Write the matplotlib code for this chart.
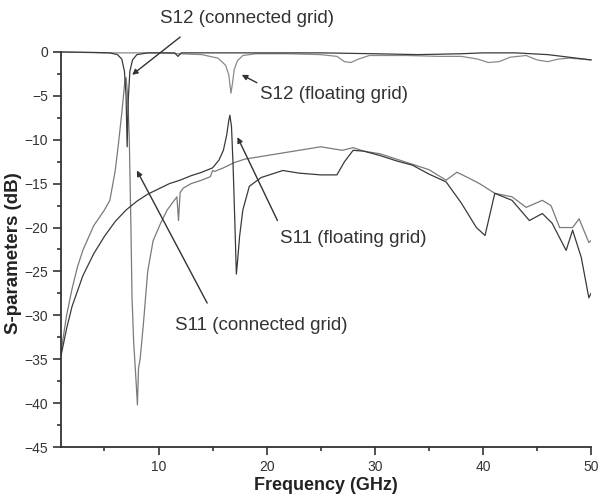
import matplotlib
matplotlib.use('Agg')
import matplotlib.pyplot as plt
from matplotlib.ticker import MultipleLocator

plt.rcParams['font.family'] = ['Liberation Sans', 'DejaVu Sans']

# S12, connected grid: notch near 7.1 GHz
f_s12c = [1, 4, 5.5, 6.2, 6.6, 6.85, 7.0, 7.1, 7.2, 7.35, 7.6, 8.0, 9, 11.5, 11.8, 12.1,
          16, 20, 25, 30, 34, 38, 40, 43, 46, 48, 50]
s12c = [0, -0.05, -0.1, -0.3, -0.8, -2.2, -5.0, -10.8, -5.5, -2.2, -0.9, -0.3, -0.1, -0.1, -0.5, -0.1,
        -0.1, -0.1, -0.1, -0.2, -0.3, -0.2, -0.1, -0.1, -0.3, -0.6, -0.9]

# S12, floating grid: notch near 16.8 GHz
f_s12f = [1, 5, 10, 14, 15.5, 16.2, 16.5, 16.7, 16.85, 17.0, 17.3, 17.8, 19, 22, 25, 26.5, 27.2,
          27.8, 28.5, 29.5, 33, 36, 38, 39.5, 40.5, 41.5, 42.5, 44, 45, 46, 47, 48, 50]
s12f = [0, -0.1, -0.1, -0.3, -0.7, -1.5, -2.6, -4.7, -3.5, -2.0, -1.0, -0.4, -0.2, -0.2, -0.3, -0.5, -1.1,
        -1.2, -0.8, -0.4, -0.4, -0.5, -0.5, -0.8, -1.2, -1.1, -0.6, -0.4, -0.9, -1.1, -0.8, -0.7, -0.9]

# S11, connected grid
f_s11c = [1, 1.5, 2, 2.5, 3, 4, 5, 5.5, 6.0, 6.3, 6.6, 6.9, 7.0, 7.15, 7.3, 7.45, 7.55, 7.7, 7.9,
          8.05, 8.15, 8.3, 8.6, 9.0, 9.5, 10.2, 10.8, 11.4, 11.7, 11.85, 12.0, 12.3, 13, 14, 14.8,
          15.0, 15.2, 16, 17, 18, 20, 22, 24, 25, 26, 27, 28, 29, 30.5, 32, 33.5, 35, 36.6, 37.6,
          38.6, 39.7, 41.1, 42.7, 44, 45.5, 46.3, 47.1, 48.3, 48.9, 49.8, 50]
s11c = [-34, -30, -27, -24.5, -22.6, -19.8, -18, -16.9, -13.5, -10.4, -7, -3.2, -2.9, -5, -10, -20, -28,
        -33, -37, -40.2, -36, -35, -31, -25, -21.5, -19.5, -18, -17, -16.5, -19.2, -16, -15.5, -15,
        -14.6, -14.2, -13.5, -13.6, -13.2, -12.6, -12.2, -11.8, -11.4, -11.0, -10.8, -11, -11.2,
        -10.9, -11.3, -11.6, -12.2, -12.8, -13.4, -14.6, -13.7, -14.3, -15, -16.1, -16.5, -17.7,
        -16.9, -17.5, -20, -20, -19, -21.7, -21.5]

# S11, floating grid
f_s11f = [1, 1.5, 2, 3, 4, 5, 6, 7, 8, 9, 10, 11, 12, 13, 14, 15, 15.6, 16.0, 16.3, 16.5, 16.6,
          16.75, 16.9, 17.05, 17.2, 17.3, 17.5, 17.8, 18.4, 19.5, 21.5, 23, 25, 26.5, 27.2, 28, 29,
          30.5, 32, 33.5, 35, 36.6, 38, 39.4, 40.2, 41.1, 42.7, 44.3, 45.5, 46.4, 47.7, 48.3, 49.1,
          49.8, 50]
s11f = [-34.5, -31.5, -29, -25.5, -23, -21, -19.3, -18, -17, -16.2, -15.6, -15, -14.6, -14.1, -13.7,
        -13.2, -12.3, -11.2, -9.5, -7.8, -7.2, -8.5, -13, -19, -25.3, -24, -21, -18, -15.3, -14.3,
        -13.5, -13.8, -14, -14, -12.5, -11.2, -11.3, -11.8, -12.4, -12.9, -13.9, -14.8, -17.2, -20,
        -20.9, -16.1, -16.9, -19.2, -18.4, -19.5, -22.6, -20.3, -23.4, -28, -27.5]

fig = plt.figure(figsize=(6, 4.98), dpi=100)
ax = fig.add_axes([0.102, 0.1024, 0.883, 0.7932])

ax.plot(f_s11c, s11c, color='#7a7a7a', lw=0.9)
ax.plot(f_s11f, s11f, color='#3a3a3a', lw=0.9)
ax.plot(f_s12f, s12f, color='#8a8a8a', lw=0.9, clip_on=False)
ax.plot(f_s12c, s12c, color='#3a3a3a', lw=0.9, clip_on=False)

ax.set_xlim(1, 50)
ax.set_ylim(-45, 0)
ax.xaxis.set_major_locator(MultipleLocator(10))
ax.xaxis.set_minor_locator(MultipleLocator(5))
ax.yaxis.set_major_locator(MultipleLocator(5))
ax.yaxis.set_minor_locator(MultipleLocator(2.5))
ax.tick_params(which='major', direction='out', length=6, width=1.2, color='#333333',
               labelsize=10, labelcolor='#333333')
ax.tick_params(which='minor', direction='out', length=3, width=1.2, color='#333333')
for side in ['top', 'right']:
    ax.spines[side].set_visible(False)
for side in ['left', 'bottom']:
    ax.spines[side].set_linewidth(1.3)
    ax.spines[side].set_color('#333333')

ax.set_xlabel('Frequency (GHz)', fontsize=13, fontweight='bold', color='#222222')
ax.xaxis.set_label_coords(0.5, -0.077)
ax.set_ylabel('S-parameters (dB)', fontsize=13.5, fontweight='bold', color='#222222')
ax.yaxis.set_label_coords(-0.074, 0.49)

arrow = dict(arrowstyle='-|>', color='#333333', lw=1.0, mutation_scale=8, shrinkA=0, shrinkB=0)
txt = dict(fontsize=13.5, color='#333333', ha='left', va='center', clip_on=False)

ax.text(10.14, 3.8, 'S12 (connected grid)', **txt)
ax.annotate('', xy=(7.56, -2.6), xytext=(12.0, 1.7), arrowprops=arrow, annotation_clip=False)

ax.text(19.4, -4.8, 'S12 (floating grid)', **txt)
ax.annotate('', xy=(17.7, -2.6), xytext=(19.1, -3.5), arrowprops=arrow)

ax.text(21.2, -21.3, 'S11 (floating grid)', **txt)
ax.annotate('', xy=(17.3, -9.7), xytext=(21.0, -19.2), arrowprops=arrow)

ax.text(11.5, -31.2, 'S11 (connected grid)', **txt)
ax.annotate('', xy=(8.0, -13.5), xytext=(14.5, -28.6), arrowprops=arrow)

fig.savefig('out.png', dpi=100)
